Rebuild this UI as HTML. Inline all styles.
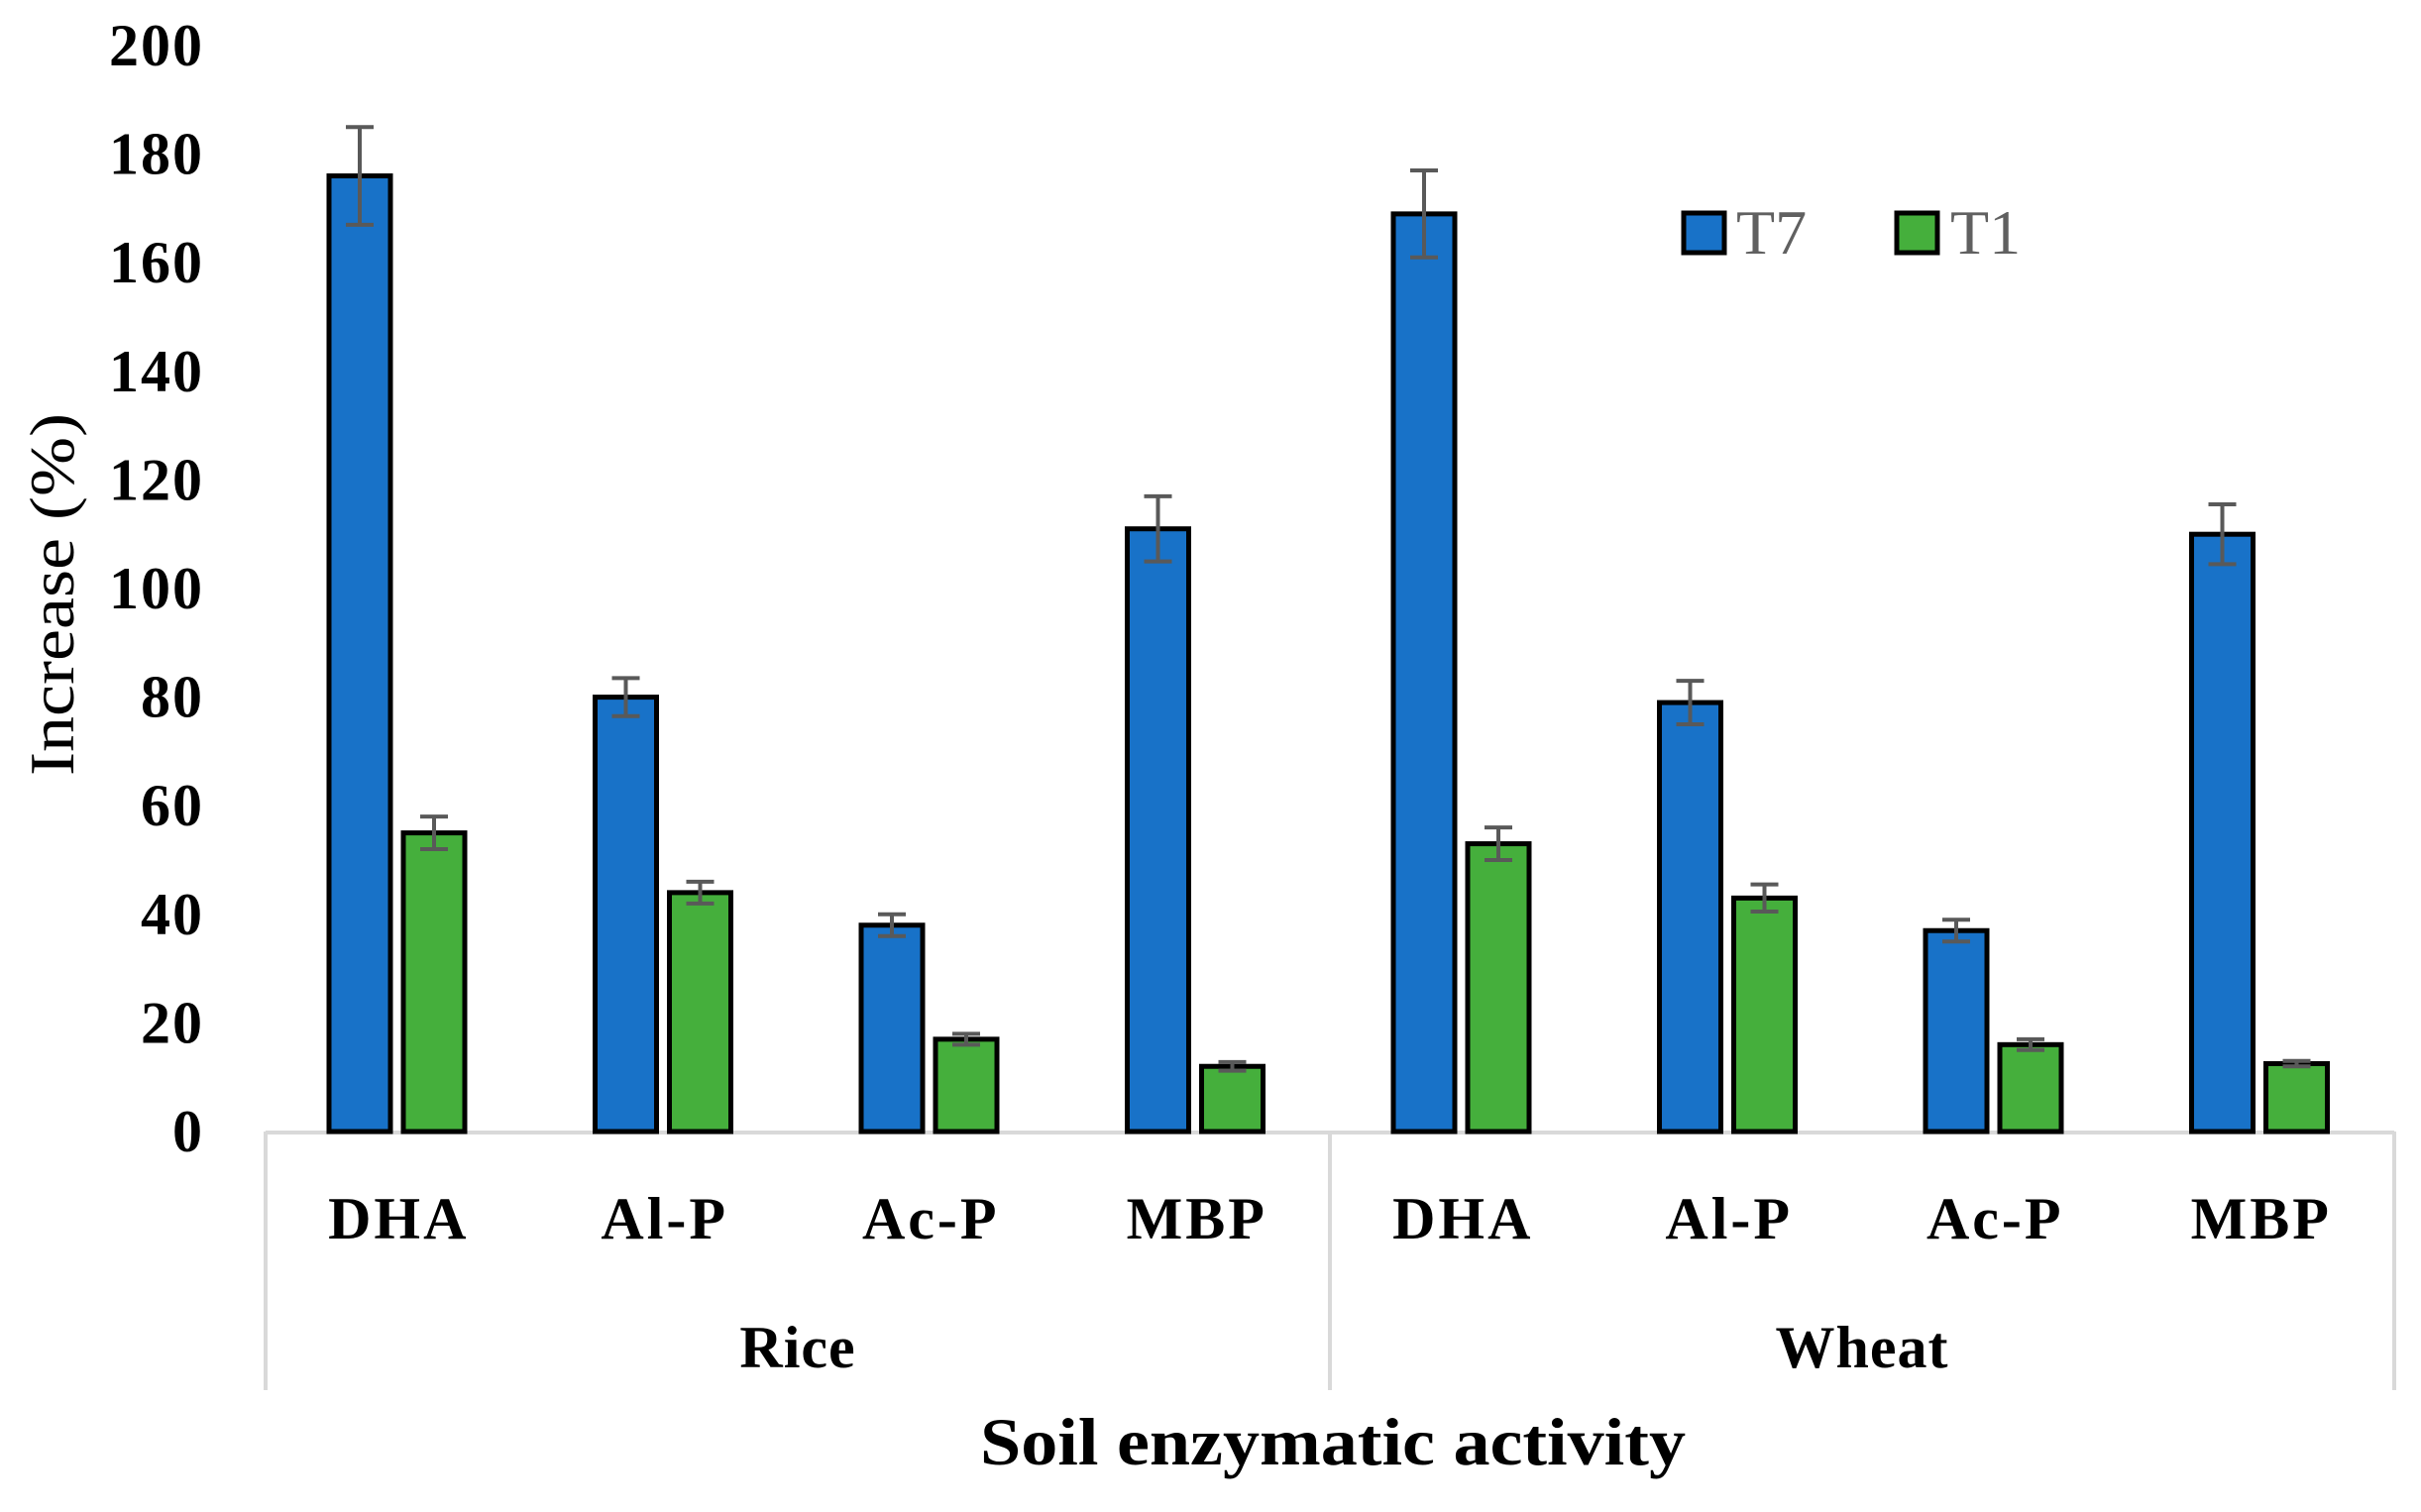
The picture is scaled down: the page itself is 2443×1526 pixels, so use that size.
<!DOCTYPE html>
<html><head><meta charset="utf-8"><style>
html,body{margin:0;padding:0;background:#fff;}
svg{display:block;font-family:"Liberation Serif",serif;}
</style></head><body>
<svg id="chart" width="2443" height="1526" viewBox="0 0 2443 1526" xmlns="http://www.w3.org/2000/svg">
<g id="grid"></g>
<g id="bars"></g>
<g id="labels"></g>
<text transform="translate(74,600) rotate(-90)" text-anchor="middle" font-size="64" fill="#000" textLength="366" lengthAdjust="spacingAndGlyphs">Increase (%)</text>
<text x="1345" y="1478" text-anchor="middle" font-size="68" font-weight="bold" fill="#000" textLength="712" lengthAdjust="spacingAndGlyphs">Soil enzymatic activity</text>
<g>
<rect x="1699" y="215" width="41" height="40" fill="#1872C8" stroke="#000" stroke-width="5"/>
<text x="1752" y="256" font-size="64" fill="#606060">T7</text>
<rect x="1914" y="215" width="41" height="40" fill="#45AF3C" stroke="#000" stroke-width="5"/>
<text x="1968" y="256" font-size="64" fill="#606060">T1</text>
</g>
</svg>
<script>
const categories = ["DHA","Al-P","Ac-P","MBP","DHA","Al-P","Ac-P","MBP"];
const groups = ["Rice","Wheat"];
const t7Values = [176,80,38,111,169,79,37,110];
const t7Errors = [9,3.5,2,6,8,4,2,5.5];
const t1Values = [55,44,17,12,53,43,16,12.5];
const t1Errors = [3,2,1,0.8,3,2.5,1,0.5];
const yTicks = [0,20,40,60,80,100,120,140,160,180,200];

const NS = "http://www.w3.org/2000/svg";
const plotL = 268, plotR = 2416, y0 = 1142, yTop = 46, yMax = 200;
const catW = (plotR - plotL) / categories.length;
function yScale(v){ return y0 - (v / yMax) * (y0 - yTop); }
function xCat(i){ return plotL + i * catW; }
function mk(tag, attrs, parent){ const e = document.createElementNS(NS, tag); for (const k in attrs) e.setAttribute(k, attrs[k]); parent.appendChild(e); return e; }

const grid = document.getElementById('grid');
const bars = document.getElementById('bars');
const labels = document.getElementById('labels');

yTicks.forEach(t => {
  const tx = mk('text', {x:206, y:yScale(t)+20, 'text-anchor':'end', 'font-size':60, 'font-weight':'bold', fill:'#000', 'letter-spacing':2}, labels);
  
  
  tx.textContent = t;
});

const axis = mk('line', {x1:plotL, x2:plotR, y1:y0+1, y2:y0+1, stroke:'#d9d9d9', 'stroke-width':4}, grid);


for (let g = 0; g <= groups.length; g++) {
  const x = plotL + g * (plotR - plotL) / groups.length;
  const vl = mk('line', {x1:x, x2:x, y1:y0, y2:1403, stroke:'#d9d9d9', 'stroke-width':4}, grid);
  
  
}
groups.forEach((g, gi) => {
  const cx = plotL + (gi + 0.5) * (plotR - plotL) / groups.length;
  const tx = mk('text', {x:cx, y:1380, 'text-anchor':'middle', 'font-size':60, 'font-weight':'bold', fill:'#000', 'letter-spacing':1}, labels);
  
  
  tx.textContent = g;
});

const bw = 62, off1 = 64, off2 = 139;
function drawBar(i, v, e, off, color, name){
  const x = xCat(i) + off;
  const r = mk('rect', {x:x, y:yScale(v), width:bw, height:y0 - yScale(v), fill:color, stroke:'#000', 'stroke-width':5}, bars);
  
  
  const cx = x + bw/2;
  const eb = mk('path', {d:`M${cx},${yScale(v+e)}V${yScale(v-e)}M${cx-14},${yScale(v+e)}H${cx+14}M${cx-14},${yScale(v-e)}H${cx+14}`, stroke:'#595959', 'stroke-width':4, fill:'none'}, bars);
  
  
}
categories.forEach((c, i) => {
  drawBar(i, t7Values[i], t7Errors[i], off1, '#1872C8', 'bar-t7');
  drawBar(i, t1Values[i], t1Errors[i], off2, '#45AF3C', 'bar-t1');
  const tx = mk('text', {x:xCat(i) + catW/2, y:1250, 'text-anchor':'middle', 'font-size':60, 'font-weight':'bold', fill:'#000', 'letter-spacing':3}, labels);
  
  
  tx.textContent = c;
});
</script>
</body></html>
